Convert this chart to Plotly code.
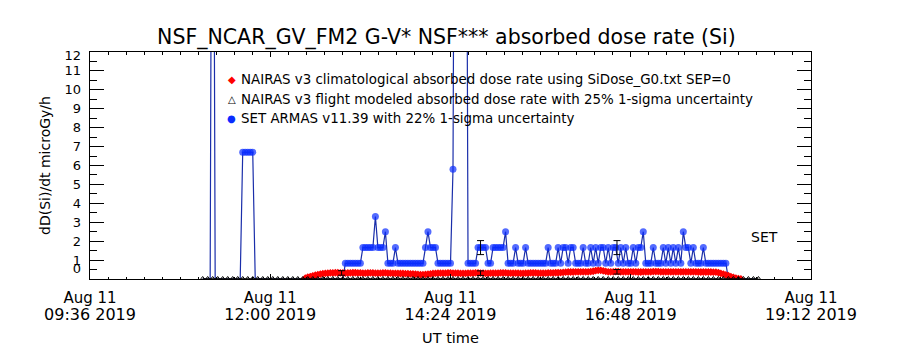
import pandas as pd
import plotly.graph_objects as go

# ---------------- data ----------------
TITLE = "NSF_NCAR_GV_FM2 G-V* NSF*** absorbed dose rate (Si)"

X_MIN = "2019-08-11 09:36:00"
X_MAX = "2019-08-11 19:12:00"
X_TICK_VALS = ["2019-08-11 09:36:00", "2019-08-11 12:00:00", "2019-08-11 14:24:00",
               "2019-08-11 16:48:00", "2019-08-11 19:12:00"]
X_TICK_LINE1 = ["Aug 11", "Aug 11", "Aug 11", "Aug 11", "Aug 11"]
X_TICK_LINE2 = ["09:36 2019", "12:00 2019", "14:24 2019", "16:48 2019", "19:12 2019"]

Y_LABELS = ["0", "1", "2", "3", "4", "5", "6", "7", "8", "9", "10", "11", "12"]
Y_LABEL_POS = [0.55, 1, 2, 3, 4, 5, 6, 7, 8, 9, 10, 11, 11.8]
Y_MAJOR = [0, 1, 2, 3, 4, 5, 6, 7, 8, 9, 10, 11, 12]

# SET ARMAS v11.39 (2-min samples starting 11:06 UT)
SET_START = "2019-08-11 11:06:00"
SET_ARMAS = [
    0, 0, 0, 0, 40, 0, 0, 0, 0, 0,
    0, 0, 0, 0, 0, 0, 6.7, 6.7, 6.7, 6.7,
    6.7, 0, 0, 0, 0, 0, 0, 0, 0, 0,
    0, 0, 0, 0, 0, 0, 0, 0, 0, 0,
    0, 0, 0, 0, 0, 0, 0, 0, 0, 0,
    0, 0, 0, 0, 0, 0, 0, 0.83, 0.83, 0.83,
    0.83, 0.83, 0.83, 0.83, 1.66, 1.66, 1.66, 1.66, 1.66, 3.3,
    1.66, 1.66, 1.66, 2.5, 0.83, 0.83, 0.83, 1.66, 0.83, 0.83,
    0.83, 0.83, 0.83, 0.83, 0.83, 0.83, 0.83, 0.83, 0.83, 1.66,
    2.5, 1.66, 1.66, 1.66, 0.83, 0.83, 0.83, 0.83, 0.83, 0.83,
    5.8, 40, 40, 40, 40, 40, 0.83, 0.83, 0.83, 0.83,
    1.66, 1.66, 1.66, 1.66, 0.83, 0.83, 1.66, 1.66, 1.66, 1.66,
    1.66, 2.5, 0.83, 0.83, 0.83, 1.66, 0.83, 0.83, 0.83, 1.66,
    0.83, 0.83, 0.83, 0.83, 0.83, 0.83, 0.83, 0.83, 1.66, 0.83,
    0.83, 0.83, 1.66, 0.83, 1.66, 1.66, 0.83, 1.66, 1.66, 0.83,
    0.83, 0.83, 1.66, 0.83, 0.83, 1.66, 0.83, 1.66, 0.83, 1.66,
    1.66, 0.83, 1.66, 0.83, 1.66, 1.66, 0.83, 1.66, 0.83, 1.66,
    0.83, 0.83, 1.66, 0.83, 1.66, 1.66, 2.5, 0.83, 0.83, 0.83,
    1.66, 0.83, 0.83, 0.83, 1.66, 0.83, 1.66, 0.83, 1.66, 0.83,
    1.66, 0.83, 2.5, 1.66, 1.66, 0.83, 1.66, 0.83, 0.83, 0.83,
    1.66, 0.83, 0.83, 0.83, 0.83, 0.83, 0.83, 0.83, 0.83, 0.83,
    0, 0, 0, 0, 0, 0, 0, 0, 0, 0,
    0, 0,
]

# NAIRAS v3 climatological (2-min samples starting 12:28 UT)
CLIM_START = "2019-08-11 12:28:00"
NAIRAS_CLIM = [
    0.05, 0.10, 0.13, 0.17, 0.20, 0.23, 0.26, 0.28, 0.30, 0.31,
    0.32, 0.32, 0.33, 0.33, 0.32, 0.32, 0.31, 0.32, 0.32, 0.33,
    0.33, 0.32, 0.32, 0.31, 0.31, 0.32, 0.32, 0.32, 0.31, 0.31,
    0.31, 0.32, 0.32, 0.31, 0.31, 0.30, 0.30, 0.30, 0.29, 0.29,
    0.28, 0.28, 0.27, 0.27,
    0.26, 0.24, 0.23, 0.23, 0.24, 0.25, 0.27,
    0.29, 0.30, 0.31,
    0.31, 0.31, 0.31, 0.32, 0.32, 0.31, 0.31, 0.31, 0.30, 0.30,
    0.30, 0.31, 0.31, 0.31, 0.32, 0.32, 0.31, 0.31, 0.30, 0.30,
    0.31, 0.31, 0.31, 0.31, 0.32, 0.32, 0.32, 0.31, 0.31, 0.31,
    0.31, 0.31, 0.30, 0.30, 0.31, 0.31, 0.32, 0.32, 0.32, 0.31,
    0.31, 0.31, 0.31, 0.32, 0.32, 0.32, 0.33, 0.33, 0.34, 0.35,
    0.36, 0.37, 0.37, 0.37, 0.38, 0.38, 0.38, 0.38, 0.38, 0.38, 0.39,
    0.41, 0.44,
    0.46, 0.46, 0.43, 0.40,
    0.38, 0.38, 0.38, 0.39, 0.39, 0.38, 0.38, 0.38, 0.38, 0.38, 0.38,
    0.38, 0.37, 0.37, 0.38, 0.38, 0.38, 0.38, 0.39, 0.39, 0.39, 0.38,
    0.38, 0.38, 0.38, 0.38, 0.38, 0.38, 0.38, 0.38, 0.38, 0.38, 0.38,
    0.38, 0.38, 0.38, 0.37, 0.37, 0.37, 0.37, 0.37, 0.37, 0.36, 0.36,
    0.34, 0.30, 0.26, 0.22, 0.18, 0.13, 0.09, 0.05, 0.02, 0.0,
]

# NAIRAS v3 flight modeled (4-min samples starting 11:06 UT)
FLIGHT_START = "2019-08-11 11:06:00"
NAIRAS_FLIGHT = [
    0, 0, 0, 0, 0, 0, 0, 0, 0, 0, 0, 0, 0, 0, 0, 0,
    0, 0, 0, 0, 0, 0, 0, 0, 0, 0, 0, 0, 0, 0, 0, 0,
    0, 0, 0, 0, 0, 0, 0, 0, 0, 0, 0, 0, 0, 0, 0, 0,
    0, 0, 0, 0, 0, 0, 0, 0, 0, 0, 0, 0, 0, 0, 0, 0,
    0, 0, 0, 0, 0, 0, 0, 0, 0, 0, 0, 0, 0, 0, 0, 0,
    0, 0, 0, 0, 0, 0, 0, 0, 0, 0, 0, 0, 0, 0, 0, 0,
    0, 0, 0, 0, 0, 0, 0, 0, 0, 0, 0, 0, 0, 0, 0, 0,
]

# uncertainty markers
SET_ERR_TIMES = ["2019-08-11 14:48:00", "2019-08-11 16:37:00"]
SET_ERR_VALS = [1.66, 1.66]
SET_ERR = [0.37, 0.37]
CLIM_ERR_TIMES = ["2019-08-11 12:57:00", "2019-08-11 14:48:00", "2019-08-11 16:37:00"]
CLIM_ERR_VALS = [0.32, 0.31, 0.38]
CLIM_ERR = [0.12, 0.12, 0.12]

LEGEND = [
    ("◆", "#ff0000", "NAIRAS v3 climatological absorbed dose rate using SiDose_G0.txt SEP=0"),
    ("△", "#000000", "NAIRAS v3 flight modeled absorbed dose rate with 25% 1-sigma uncertainty"),
    ("●", "#0a2cff", "SET ARMAS v11.39 with 22% 1-sigma uncertainty"),
]

# ---------------- figure ----------------
FONT = "DejaVu Sans"
set_t = pd.date_range(SET_START, periods=len(SET_ARMAS), freq="2min")
clim_t = pd.date_range(CLIM_START, periods=len(NAIRAS_CLIM), freq="2min")
flight_t = pd.date_range(FLIGHT_START, periods=len(NAIRAS_FLIGHT), freq="4min")
# zero-valued ARMAS samples are drawn without a symbol (as in the original)
set_sizes = [0 if v == 0 else 7 for v in SET_ARMAS]

fig = go.Figure()
fig.add_trace(go.Scatter(x=set_t, y=SET_ARMAS, mode="lines+markers",
                         line=dict(color="#1a2eaa", width=1.2),
                         marker=dict(symbol="circle", size=set_sizes, color="#0a2cff",
                                     line=dict(width=0)),
                         name="SET ARMAS"))
fig.add_trace(go.Scatter(x=clim_t, y=NAIRAS_CLIM, mode="lines+markers",
                         line=dict(color="#ff0000", width=1),
                         marker=dict(symbol="diamond", size=6, color="#ff0000",
                                     line=dict(width=0)),
                         name="NAIRAS clim"))
fig.add_trace(go.Scatter(x=flight_t, y=NAIRAS_FLIGHT, mode="lines+markers",
                         line=dict(color="#000000", width=1.5),
                         marker=dict(symbol="triangle-up-open", size=5, color="#000000"),
                         name="NAIRAS flight"))
fig.add_trace(go.Scatter(x=SET_ERR_TIMES, y=SET_ERR_VALS, mode="markers",
                         marker=dict(size=1, color="rgba(0,0,0,0)"),
                         error_y=dict(type="data", array=SET_ERR, color="black",
                                      thickness=1, width=3.5),
                         xaxis="x2", yaxis="y2"))
fig.add_trace(go.Scatter(x=CLIM_ERR_TIMES, y=CLIM_ERR_VALS, mode="markers",
                         marker=dict(size=1, color="rgba(0,0,0,0)"),
                         error_y=dict(type="data", array=CLIM_ERR, color="black",
                                      thickness=1, width=3.5),
                         xaxis="x2", yaxis="y2"))

ax_common = dict(showgrid=False, zeroline=False, automargin=False)
fig.update_layout(
    width=900, height=350,
    margin=dict(l=90, r=89, t=52, b=71, pad=0, autoexpand=False),
    paper_bgcolor="white", plot_bgcolor="white",
    showlegend=False,
    font=dict(family=FONT, color="black"),
    title=dict(text=TITLE, x=0.496, xanchor="center", xref="container",
               y=1 - 37 / 350, yanchor="middle", yref="container",
               font=dict(size=20.5, family=FONT, color="black")),
    xaxis=dict(type="date", range=[X_MIN, X_MAX], tickmode="array",
               tickvals=X_TICK_VALS, ticktext=X_TICK_LINE1,
               ticks="inside", ticklen=5, tickcolor="black", tickwidth=1,
               showline=True, linecolor="black", linewidth=1, mirror="ticks",
               tickfont=dict(size=15), ticklabelstandoff=5,
               minor=dict(ticks="inside", ticklen=2.5, dtick=14.4 * 60 * 1000,
                          tick0=X_MIN, tickcolor="black", showgrid=False),
               **ax_common),
    xaxis2=dict(type="date", range=[X_MIN, X_MAX], overlaying="x", anchor="y2",
                side="bottom", tickmode="array", tickvals=X_TICK_VALS,
                ticktext=X_TICK_LINE2, ticks="", showline=False,
                tickfont=dict(size=16), ticklabelstandoff=24,
                title=dict(text="UT time", font=dict(size=14.5), standoff=9),
                **ax_common),
    yaxis=dict(range=[0, 12], tickmode="array", tickvals=Y_MAJOR,
               ticks="inside", ticklen=14, tickcolor="black", tickwidth=1,
               showticklabels=False, showline=True, linecolor="black",
               linewidth=1, mirror="ticks",
               minor=dict(ticks="inside", ticklen=7, dtick=0.5, tick0=0,
                          tickcolor="black", showgrid=False),
               **ax_common),
    yaxis2=dict(range=[0, 12], overlaying="y", anchor="x2", side="left",
                tickmode="array", tickvals=Y_LABEL_POS, ticktext=Y_LABELS,
                ticks="", showline=False, tickfont=dict(size=13),
                ticklabelstandoff=8,
                title=dict(text="dD(Si)/dt microGy/h", font=dict(size=14), standoff=10),
                **ax_common),
)

ann = []
rows_y = [0.8767, 0.7916, 0.7079]
for (sym, col, txt), yy in zip(LEGEND, rows_y):
    ann.append(dict(x=0.1965, y=yy, xref="paper", yref="paper", text=sym,
                    showarrow=False, xanchor="center", yanchor="middle",
                    font=dict(size=10, color=col, family=FONT)))
    ann.append(dict(x=0.2067, y=yy, xref="paper", yref="paper", text=txt,
                    showarrow=False, xanchor="left", yanchor="middle",
                    font=dict(size=13.4, color="black", family=FONT)))
ann.append(dict(x=0.9355, y=0.185, xref="paper", yref="paper", text="SET",
                showarrow=False, xanchor="center", yanchor="middle",
                font=dict(size=14, color="black", family=FONT)))
fig.update_layout(annotations=ann)

fig.write_html("out.html")
